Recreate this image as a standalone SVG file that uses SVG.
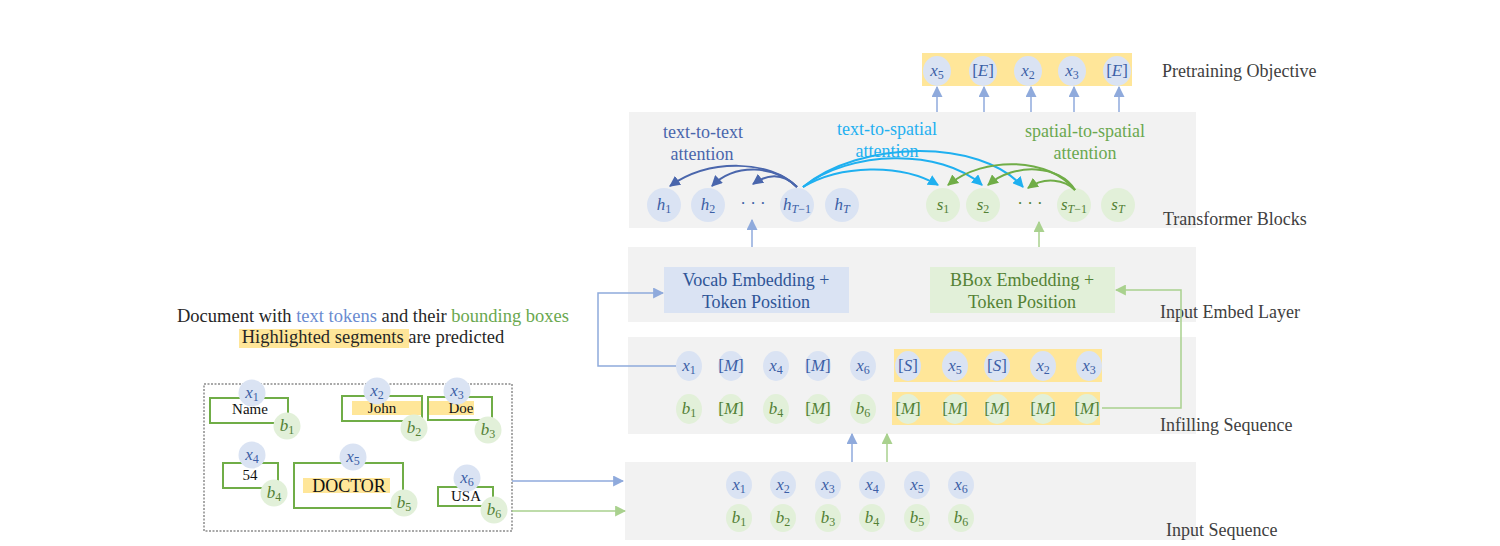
<svg xmlns="http://www.w3.org/2000/svg" width="1500" height="546" viewBox="0 0 1500 546">
<style>
.pn{fill:#f2f2f2}
.cb{fill:#dae3f3}
.cg{fill:#e2f0d9}
.yl{fill:#ffe699}
.mb{font-family:"Liberation Serif",serif;font-style:italic;font-size:17px;fill:#3c5fa6;text-anchor:middle}
.mg{font-family:"Liberation Serif",serif;font-style:italic;font-size:17px;fill:#538135;text-anchor:middle}
.sb{font-size:12px;font-style:normal}
.up{font-style:normal}
.lbl{font-family:"Liberation Serif",serif;font-size:18px;fill:#404040}
.bx{fill:none;stroke:#70ad47;stroke-width:2}
.dt{font-family:"Liberation Serif",serif;font-size:15px;fill:#111;text-anchor:middle}
.att{font-family:"Liberation Serif",serif;font-size:18px;text-anchor:middle}
.lb{fill:none;stroke:#8faadc;stroke-width:1.5}
.lg{fill:none;stroke:#a9d18e;stroke-width:1.5}
.ad{fill:none;stroke:#4a66ac;stroke-width:2}
.ac{fill:none;stroke:#1fb0f0;stroke-width:2}
.ag{fill:none;stroke:#70ad47;stroke-width:2}
</style>
<defs>
<marker id="mLB" viewBox="0 0 10 10" refX="9" refY="5" markerWidth="11" markerHeight="11" markerUnits="userSpaceOnUse" orient="auto"><path d="M0,0 L10,5 L0,10 z" fill="#8faadc"/></marker>
<marker id="mLG" viewBox="0 0 10 10" refX="9" refY="5" markerWidth="11" markerHeight="11" markerUnits="userSpaceOnUse" orient="auto"><path d="M0,0 L10,5 L0,10 z" fill="#a9d18e"/></marker>
<marker id="mD" viewBox="0 0 10 10" refX="9" refY="5" markerWidth="11" markerHeight="11" markerUnits="userSpaceOnUse" orient="auto"><path d="M0,0 L10,5 L0,10 z" fill="#4a66ac"/></marker>
<marker id="mC" viewBox="0 0 10 10" refX="9" refY="5" markerWidth="11" markerHeight="11" markerUnits="userSpaceOnUse" orient="auto"><path d="M0,0 L10,5 L0,10 z" fill="#1fb0f0"/></marker>
<marker id="mG" viewBox="0 0 10 10" refX="9" refY="5" markerWidth="11" markerHeight="11" markerUnits="userSpaceOnUse" orient="auto"><path d="M0,0 L10,5 L0,10 z" fill="#70ad47"/></marker>
</defs>
<rect width="1500" height="546" fill="#ffffff"/>

<!-- Pretraining objective -->
<g id="objective">
<rect class="yl" x="922" y="53" width="210" height="33"/>
<ellipse class="cb" cx="937" cy="71" rx="14" ry="15"/>
<ellipse class="cb" cx="983" cy="71" rx="14" ry="15"/>
<ellipse class="cb" cx="1028" cy="71" rx="14" ry="15"/>
<ellipse class="cb" cx="1072" cy="71" rx="14" ry="15"/>
<ellipse class="cb" cx="1117" cy="71" rx="14" ry="15"/>
<text class="mb" x="937" y="76">x<tspan class="sb" dy="3">5</tspan></text>
<text class="mb" x="983" y="76"><tspan class="up">[</tspan>E<tspan class="up">]</tspan></text>
<text class="mb" x="1028" y="76">x<tspan class="sb" dy="3">2</tspan></text>
<text class="mb" x="1072" y="76">x<tspan class="sb" dy="3">3</tspan></text>
<text class="mb" x="1117" y="76"><tspan class="up">[</tspan>E<tspan class="up">]</tspan></text>
<text class="lbl" x="1162" y="77">Pretraining Objective</text>
</g>

<!-- Transformer blocks -->
<g id="transformer">
<rect class="pn" x="629" y="112" width="567" height="116"/>
<circle class="cb" cx="664" cy="205" r="17"/>
<circle class="cb" cx="708" cy="205" r="17"/>
<circle class="cb" cx="797" cy="205" r="17"/>
<circle class="cb" cx="842" cy="205" r="17"/>
<circle class="cg" cx="943" cy="205" r="17"/>
<circle class="cg" cx="983" cy="205" r="17"/>
<circle class="cg" cx="1074" cy="205" r="17"/>
<circle class="cg" cx="1118" cy="205" r="17"/>
<text class="mb" x="664" y="210">h<tspan class="sb" dy="3">1</tspan></text>
<text class="mb" x="708" y="210">h<tspan class="sb" dy="3">2</tspan></text>
<text class="mb" x="753" y="209" style="font-style:normal">· · ·</text>
<text class="mb" x="797" y="210">h<tspan class="sb" dy="3"><tspan style="font-style:italic">T</tspan>−1</tspan></text>
<text class="mb" x="842" y="210">h<tspan class="sb" dy="3" style="font-style:italic">T</tspan></text>
<text class="mg" x="943" y="210">s<tspan class="sb" dy="3">1</tspan></text>
<text class="mg" x="983" y="210">s<tspan class="sb" dy="3">2</tspan></text>
<text class="mg" x="1030" y="209" style="font-style:normal">· · ·</text>
<text class="mg" x="1074" y="210">s<tspan class="sb" dy="3"><tspan style="font-style:italic">T</tspan>−1</tspan></text>
<text class="mg" x="1118" y="210">s<tspan class="sb" dy="3" style="font-style:italic">T</tspan></text>
<text class="att" x="703" y="138" fill="#4a66ac">text-to-text</text>
<text class="att" x="702" y="160" fill="#4a66ac">attention</text>
<text class="att" x="887" y="135" fill="#1fb0f0">text-to-spatial</text>
<text class="att" x="887" y="157" fill="#1fb0f0">attention</text>
<text class="att" x="1085" y="137" fill="#6aa84f">spatial-to-spatial</text>
<text class="att" x="1085" y="159" fill="#6aa84f">attention</text>
<text class="lbl" x="1163" y="225">Transformer Blocks</text>
</g>

<!-- Input embed layer -->
<g id="embed">
<rect class="pn" x="628" y="247" width="568" height="75"/>
<rect class="cb" x="664" y="267" width="185" height="46"/>
<rect class="cg" x="930" y="267" width="185" height="46"/>
<text class="att" x="756" y="286" fill="#2f5597">Vocab Embedding +</text>
<text class="att" x="756" y="308" fill="#2f5597">Token Position</text>
<text class="att" x="1022" y="286" fill="#548235">BBox Embedding +</text>
<text class="att" x="1022" y="308" fill="#548235">Token Position</text>
<text class="lbl" x="1160" y="318">Input Embed Layer</text>
</g>

<!-- Infilling sequence -->
<g id="infill">
<rect class="pn" x="628" y="337" width="568" height="97"/>
<rect class="yl" x="894" y="349" width="208" height="33"/>
<rect class="yl" x="892" y="392" width="208" height="33"/>
<g class="cb">
<ellipse cx="689" cy="366" rx="13" ry="15"/><ellipse cx="731" cy="366" rx="13" ry="15"/><ellipse cx="776" cy="366" rx="13" ry="15"/><ellipse cx="818" cy="366" rx="13" ry="15"/><ellipse cx="863" cy="366" rx="13" ry="15"/><ellipse cx="908" cy="366" rx="13" ry="15"/><ellipse cx="955" cy="366" rx="13" ry="15"/><ellipse cx="997" cy="366" rx="13" ry="15"/><ellipse cx="1043" cy="366" rx="13" ry="15"/><ellipse cx="1089" cy="366" rx="13" ry="15"/>
</g>
<g class="cg">
<ellipse cx="689" cy="409" rx="13" ry="15"/><ellipse cx="731" cy="409" rx="13" ry="15"/><ellipse cx="776" cy="409" rx="13" ry="15"/><ellipse cx="818" cy="409" rx="13" ry="15"/><ellipse cx="863" cy="409" rx="13" ry="15"/><ellipse cx="908" cy="409" rx="13" ry="15"/><ellipse cx="955" cy="409" rx="13" ry="15"/><ellipse cx="997" cy="409" rx="13" ry="15"/><ellipse cx="1043" cy="409" rx="13" ry="15"/><ellipse cx="1087" cy="409" rx="13" ry="15"/>
</g>
<text class="mb" x="689" y="371">x<tspan class="sb" dy="3">1</tspan></text>
<text class="mb" x="731" y="371"><tspan class="up">[</tspan>M<tspan class="up">]</tspan></text>
<text class="mb" x="776" y="371">x<tspan class="sb" dy="3">4</tspan></text>
<text class="mb" x="818" y="371"><tspan class="up">[</tspan>M<tspan class="up">]</tspan></text>
<text class="mb" x="863" y="371">x<tspan class="sb" dy="3">6</tspan></text>
<text class="mb" x="908" y="371"><tspan class="up">[</tspan>S<tspan class="up">]</tspan></text>
<text class="mb" x="955" y="371">x<tspan class="sb" dy="3">5</tspan></text>
<text class="mb" x="997" y="371"><tspan class="up">[</tspan>S<tspan class="up">]</tspan></text>
<text class="mb" x="1043" y="371">x<tspan class="sb" dy="3">2</tspan></text>
<text class="mb" x="1089" y="371">x<tspan class="sb" dy="3">3</tspan></text>
<text class="mg" x="689" y="414">b<tspan class="sb" dy="3">1</tspan></text>
<text class="mg" x="731" y="414"><tspan class="up">[</tspan>M<tspan class="up">]</tspan></text>
<text class="mg" x="776" y="414">b<tspan class="sb" dy="3">4</tspan></text>
<text class="mg" x="818" y="414"><tspan class="up">[</tspan>M<tspan class="up">]</tspan></text>
<text class="mg" x="863" y="414">b<tspan class="sb" dy="3">6</tspan></text>
<text class="mg" x="908" y="414"><tspan class="up">[</tspan>M<tspan class="up">]</tspan></text>
<text class="mg" x="955" y="414"><tspan class="up">[</tspan>M<tspan class="up">]</tspan></text>
<text class="mg" x="997" y="414"><tspan class="up">[</tspan>M<tspan class="up">]</tspan></text>
<text class="mg" x="1043" y="414"><tspan class="up">[</tspan>M<tspan class="up">]</tspan></text>
<text class="mg" x="1087" y="414"><tspan class="up">[</tspan>M<tspan class="up">]</tspan></text>
<text class="lbl" x="1160" y="431">Infilling Sequence</text>
</g>

<!-- Input sequence -->
<g id="input">
<rect class="pn" x="625" y="462" width="571" height="78"/>
<g class="cb">
<ellipse cx="739" cy="485" rx="13" ry="14"/><ellipse cx="783" cy="485" rx="13" ry="14"/><ellipse cx="828" cy="485" rx="13" ry="14"/><ellipse cx="872" cy="485" rx="13" ry="14"/><ellipse cx="917" cy="485" rx="13" ry="14"/><ellipse cx="961" cy="485" rx="13" ry="14"/>
</g>
<g class="cg">
<ellipse cx="739" cy="518" rx="13" ry="14"/><ellipse cx="783" cy="518" rx="13" ry="14"/><ellipse cx="828" cy="518" rx="13" ry="14"/><ellipse cx="872" cy="518" rx="13" ry="14"/><ellipse cx="917" cy="518" rx="13" ry="14"/><ellipse cx="961" cy="518" rx="13" ry="14"/>
</g>
<text class="mb" x="739" y="490">x<tspan class="sb" dy="3">1</tspan></text>
<text class="mb" x="783" y="490">x<tspan class="sb" dy="3">2</tspan></text>
<text class="mb" x="828" y="490">x<tspan class="sb" dy="3">3</tspan></text>
<text class="mb" x="872" y="490">x<tspan class="sb" dy="3">4</tspan></text>
<text class="mb" x="917" y="490">x<tspan class="sb" dy="3">5</tspan></text>
<text class="mb" x="961" y="490">x<tspan class="sb" dy="3">6</tspan></text>
<text class="mg" x="739" y="523">b<tspan class="sb" dy="3">1</tspan></text>
<text class="mg" x="783" y="523">b<tspan class="sb" dy="3">2</tspan></text>
<text class="mg" x="828" y="523">b<tspan class="sb" dy="3">3</tspan></text>
<text class="mg" x="872" y="523">b<tspan class="sb" dy="3">4</tspan></text>
<text class="mg" x="917" y="523">b<tspan class="sb" dy="3">5</tspan></text>
<text class="mg" x="961" y="523">b<tspan class="sb" dy="3">6</tspan></text>
<text class="lbl" x="1166" y="536">Input Sequence</text>
</g>

<!-- Document -->
<g id="document">
<text x="373" y="322" font-family="Liberation Serif, serif" font-size="18.5" fill="#262626" text-anchor="middle">Document with <tspan fill="#6a8bd0">text tokens</tspan> and their <tspan fill="#6aa84f">bounding boxes</tspan></text>
<rect class="yl" x="239" y="329" width="170" height="19"/>
<text x="373" y="343" font-family="Liberation Serif, serif" font-size="18.5" fill="#262626" text-anchor="middle">Highlighted segments are predicted</text>
<rect x="204" y="384" width="308" height="147" fill="#ffffff" stroke="#8c8c8c" stroke-width="1.5" stroke-dasharray="2,1.5"/>
<rect class="yl" x="352" y="401" width="70" height="14"/>
<rect class="yl" x="429" y="401" width="45" height="14"/>
<rect class="yl" x="303" y="478" width="87" height="15"/>
<rect class="bx" x="210" y="398" width="78" height="25"/>
<rect class="bx" x="342" y="396" width="80" height="25"/>
<rect class="bx" x="428" y="397" width="64" height="23"/>
<rect class="bx" x="223" y="463" width="55" height="25"/>
<rect class="bx" x="294" y="463" width="109" height="45"/>
<rect class="bx" x="438" y="487" width="55" height="19"/>
<text class="dt" x="250" y="414">Name</text>
<text class="dt" x="382" y="413">John</text>
<text class="dt" x="461" y="413">Doe</text>
<text class="dt" x="250" y="480">54</text>
<text class="dt" x="349" y="492" style="font-size:18px">DOCTOR</text>
<text class="dt" x="466" y="501">USA</text>
<g class="cb">
<circle cx="252" cy="393" r="13.5"/><circle cx="377" cy="391" r="13.5"/><circle cx="457" cy="391" r="13.5"/><circle cx="252" cy="455" r="13.5"/><circle cx="353" cy="457" r="13.5"/><circle cx="467" cy="478" r="13.5"/>
</g>
<g class="cg">
<circle cx="287" cy="426" r="13.5"/><circle cx="414" cy="428" r="13.5"/><circle cx="488" cy="430" r="13.5"/><circle cx="274" cy="493" r="13.5"/><circle cx="404" cy="503" r="13.5"/><circle cx="494" cy="510" r="13.5"/>
</g>
<text class="mb" x="252" y="398">x<tspan class="sb" dy="3">1</tspan></text>
<text class="mb" x="377" y="396">x<tspan class="sb" dy="3">2</tspan></text>
<text class="mb" x="457" y="396">x<tspan class="sb" dy="3">3</tspan></text>
<text class="mb" x="252" y="460">x<tspan class="sb" dy="3">4</tspan></text>
<text class="mb" x="353" y="462">x<tspan class="sb" dy="3">5</tspan></text>
<text class="mb" x="467" y="483">x<tspan class="sb" dy="3">6</tspan></text>
<text class="mg" x="287" y="431">b<tspan class="sb" dy="3">1</tspan></text>
<text class="mg" x="414" y="433">b<tspan class="sb" dy="3">2</tspan></text>
<text class="mg" x="488" y="435">b<tspan class="sb" dy="3">3</tspan></text>
<text class="mg" x="274" y="498">b<tspan class="sb" dy="3">4</tspan></text>
<text class="mg" x="404" y="508">b<tspan class="sb" dy="3">5</tspan></text>
<text class="mg" x="494" y="515">b<tspan class="sb" dy="3">6</tspan></text>
</g>

<!-- Connectors -->
<g id="connectors">
<line class="lb" x1="937" y1="112" x2="937" y2="87" marker-end="url(#mLB)"/>
<line class="lb" x1="984" y1="112" x2="984" y2="87" marker-end="url(#mLB)"/>
<line class="lb" x1="1031" y1="112" x2="1031" y2="87" marker-end="url(#mLB)"/>
<line class="lb" x1="1074" y1="112" x2="1074" y2="87" marker-end="url(#mLB)"/>
<line class="lb" x1="1119" y1="112" x2="1119" y2="87" marker-end="url(#mLB)"/>
<line class="lb" x1="752" y1="247" x2="752" y2="220" marker-end="url(#mLB)"/>
<line class="lg" x1="1039" y1="247" x2="1039" y2="222" marker-end="url(#mLG)"/>
<line class="lb" x1="852" y1="462" x2="852" y2="434" marker-end="url(#mLB)"/>
<line class="lg" x1="887" y1="462" x2="887" y2="434" marker-end="url(#mLG)"/>
<line class="lb" x1="512" y1="481" x2="623" y2="481" marker-end="url(#mLB)"/>
<line class="lg" x1="512" y1="511" x2="625" y2="511" marker-end="url(#mLG)"/>
<polyline class="lb" points="676,366 598,366 598,293 663,293" marker-end="url(#mLB)"/>
<polyline class="lg" points="1102,408 1181,408 1181,290 1116,290" marker-end="url(#mLG)"/>
<path class="ad" d="M797,187 C770,160 710,158 670,186" marker-end="url(#mD)"/>
<path class="ad" d="M797,187 C775,165 735,163 712,186" marker-end="url(#mD)"/>
<path class="ad" d="M797,187 C785,175 770,172 753,184" marker-end="url(#mD)"/>
<path class="ac" d="M803,187 C840,165 900,163 938,185" marker-end="url(#mC)"/>
<path class="ac" d="M803,187 C850,150 940,148 982,185" marker-end="url(#mC)"/>
<path class="ac" d="M803,187 C860,140 980,138 1023,187" marker-end="url(#mC)"/>
<path class="ag" d="M1075,190 C1050,158 985,155 948,185" marker-end="url(#mG)"/>
<path class="ag" d="M1075,190 C1060,165 1015,162 988,185" marker-end="url(#mG)"/>
<path class="ag" d="M1075,190 C1065,180 1045,176 1028,188" marker-end="url(#mG)"/>
</g>
</svg>
